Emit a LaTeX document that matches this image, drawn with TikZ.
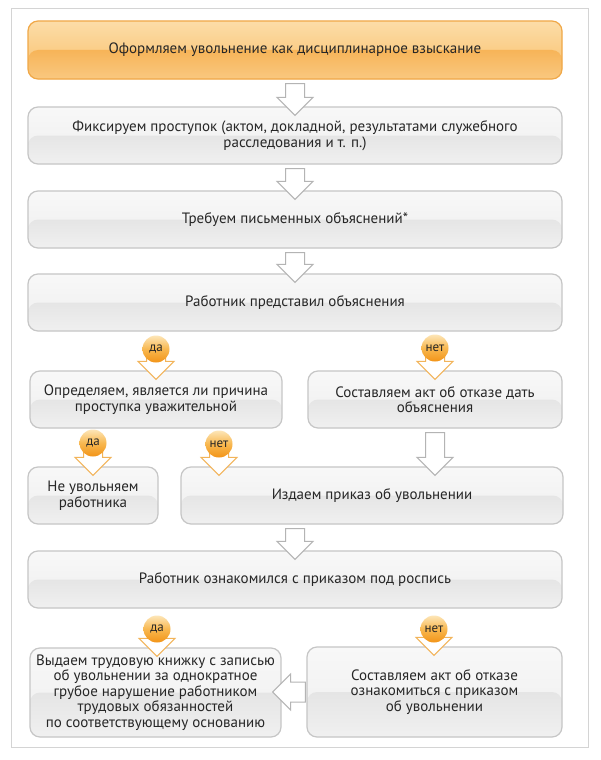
\documentclass[tikz,border=0pt]{standalone}
\usepackage{fontspec}
\setmainfont{PT Sans}
\usepackage{xcolor}
\usetikzlibrary{calc}
\definecolor{txt}{HTML}{262626}
\definecolor{edge}{HTML}{C6C6C6}
\definecolor{frame}{HTML}{D4D4D4}
\definecolor{boxtop}{HTML}{F8F8F8}
\definecolor{boxup}{HTML}{EEEEEE}
\definecolor{boxmid}{HTML}{DADADA}
\definecolor{boxbot}{HTML}{F0F0F0}
\definecolor{ortop}{HTML}{FCDDA8}
\definecolor{ormid}{HTML}{F9BE68}
\definecolor{orlow}{HTML}{F5A030}
\definecolor{orbot}{HTML}{F9C880}
\definecolor{oredge}{HTML}{F0A848}
\definecolor{arrgray}{HTML}{B4B4B4}
\definecolor{arrorange}{HTML}{F2B45A}
\definecolor{ctop}{HTML}{FDE6B8}
\definecolor{cmid}{HTML}{F8B850}
\definecolor{cbot}{HTML}{F29418}

\newcommand\fatarrow[3][arrgray]{%
\draw[draw=#1,fill=white,line width=1pt,line join=miter]
($(#2)+(-9.5,4)$)--($(#2)+(9.5,4)$)--($(#2|-#3)+(9.5,-9)$)--($(#2|-#3)+(18,-9)$)
--($(#2|-#3)+(0,9)$)--($(#2|-#3)+(-18,-9)$)--($(#2|-#3)+(-9.5,-9)$)--cycle;}

\begin{document}
\begin{tikzpicture}[x=1pt,y=-1pt,
box/.style={draw=edge,line width=1.2pt,rounded corners=10pt,align=center,text=txt,
 font=\fontsize{15}{15.5}\selectfont,minimum height=57pt,inner sep=2pt,
 top color=boxtop,bottom color=boxup,
 path picture={\shade[top color=boxmid,bottom color=boxbot](path picture bounding box.west)rectangle(path picture bounding box.south east);}},
obox/.style={box,draw=oredge,top color=ortop,bottom color=ormid,
 path picture={\shade[top color=orlow,bottom color=orbot](path picture bounding box.west)rectangle(path picture bounding box.south east);}},
yes/.style={circle,minimum size=27pt,inner sep=0pt,top color=ctop,bottom color=cbot,middle color=cmid,
 text=txt,font=\fontsize{13}{13}\selectfont}]
\useasboundingbox[fill=white](0,0)rectangle(600,760);
\draw[frame,line width=1pt](11,9)rectangle(588,747);
%%
\node[obox,minimum width=534pt,minimum height=58pt](b1)at(295,50){Оформляем увольнение как дисциплинарное взыскание};
\node[box,minimum width=534pt](b2)at(295,135.5){Фиксируем проступок (актом, докладной, результатами служебного\\расследования и т. п.)};
\node[box,minimum width=534pt](b3)at(295,219.5){Требуем письменных объяснений*};
\node[box,minimum width=534pt](b4)at(295,302.5){Работник представил объяснения};
\node[box,minimum width=252pt](b5)at(156,399.5){Определяем, является ли причина\\проступка уважительной};
\node[box,minimum width=254pt](b8)at(435,399.5){Составляем акт об отказе дать\\объяснения};
\node[box,minimum width=130pt](b6)at(93,495.5){Не увольняем\\работника};
\node[box,minimum width=382pt](b7)at(372,495.5){Издаем приказ об увольнении};
\node[box,minimum width=534pt](b9)at(295,579.5){Работник ознакомился с приказом под роспись};
\node[box,minimum width=251pt,minimum height=89pt](b10)at(155.5,692.5){Выдаем трудовую книжку с записью\\об увольнении за однократное\\грубое нарушение работником\\трудовых обязанностей\\по соответствующему основанию};
\node[box,minimum width=255pt,minimum height=90pt](b11)at(434.5,692){Составляем акт об отказе\\ознакомиться с приказом\\об увольнении};
%%
\fatarrow{b1.south}{b2.north}
\fatarrow{b2.south}{b3.north}
\fatarrow{b3.south}{b4.north}
\fatarrow{b8.south}{b7.north}
\coordinate(s7)at(b7.south-|b9.north);
\fatarrow{s7}{b9.north}
\draw[arrgray,fill=white,line width=1pt,line join=miter]($(b11.west)+(-1,-10)$)--($(b10.east|-b11.west)+(9,-10)$)--($(b10.east|-b11.west)+(9,-18)$)
--($(b10.east|-b11.west)+(-9,0)$)--($(b10.east|-b11.west)+(9,18)$)--($(b10.east|-b11.west)+(9,10)$)--($(b11.west)+(-1,10)$)--cycle;
%%
\coordinate(d1)at(156,349);
\coordinate(d2)at(435,348);
\coordinate(d3)at(93,443);
\coordinate(d4)at(219,444);
\coordinate(d5)at(157,629);
\coordinate(d6)at(434,629);
\fatarrow[arrorange]{d1}{b5.north}
\fatarrow[arrorange]{d2}{b8.north}
\fatarrow[arrorange]{d3}{b6.north}
\fatarrow[arrorange]{d4}{b7.north}
\fatarrow[arrorange]{d5}{b10.north}
\fatarrow[arrorange]{d6}{b11.north}
\node[yes](c1)at(d1){да};
\node[yes](c2)at(d2){нет};
\node[yes](c3)at(d3){да};
\node[yes](c4)at(d4){нет};
\node[yes](c5)at(d5){да};
\node[yes](c6)at(d6){нет};
\end{tikzpicture}
\end{document}
